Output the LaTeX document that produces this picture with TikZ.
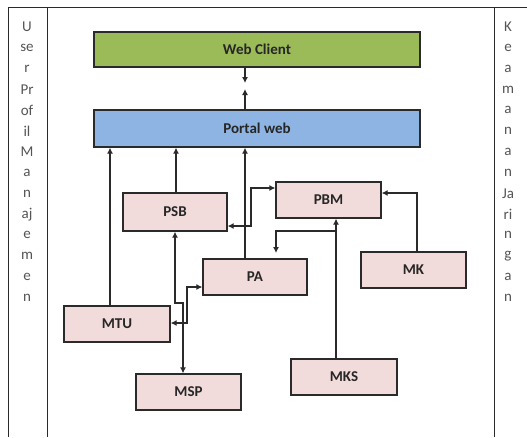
\documentclass[tikz,border=0pt]{standalone}
\usepackage{fontspec}
\setmainfont{Carlito}
\usetikzlibrary{arrows.meta}
\definecolor{boxpink}{HTML}{F2DCDB}
\definecolor{wcgreen}{HTML}{9BBB59}
\definecolor{pwblue}{HTML}{8DB4E2}
\definecolor{edge}{HTML}{2A2A2A}
\definecolor{sidetext}{HTML}{555555}
\begin{document}
\begin{tikzpicture}[x=1pt,y=-1pt,
  mbox/.style={draw=edge,line width=1.3pt,fill=boxpink,font=\fontsize{15}{15}\selectfont\bfseries,text=black!85,inner sep=0pt},
  conn/.style={draw=edge,line width=1.1pt},
  arr/.style={conn,-{Latex[length=6pt,width=6pt]}},
  darr/.style={conn,{Latex[length=6pt,width=6pt]}-{Latex[length=6pt,width=6pt]}},
  side/.style={font=\fontsize{15}{15}\selectfont,text=sidetext,anchor=center,inner sep=0pt},
  frame/.style={draw=edge,line width=1pt}]
\useasboundingbox (0,0) rectangle (527,437);
\fill[white] (0,0) rectangle (527,437);
% frame
\draw[frame] (8,7) -- (527,7);
\draw[frame] (8,7) -- (8,437);
\draw[frame] (47,7) -- (47,437);
\draw[frame] (494,7) -- (494,437);
% side texts
\foreach \t [count=\i] in {U,se,r,Pr,of,il,M,a,n,aj,e,m,e,n}
  \node[side] (l\i) at (27,{27+(\i-1)*20.8}) {\t};
\foreach \t [count=\i] in {K,e,a,m,a,n,a,n,Ja,ri,n,g,a,n}
  \node[side] (r\i) at (508,{27+(\i-1)*20.8}) {\t};
% main boxes
\node[mbox,fill=wcgreen,minimum width=326pt,minimum height=35pt] (wc) at (257,49.5) {Web Client};
\node[mbox,fill=pwblue,minimum width=326pt,minimum height=37pt] (pw) at (257,128.5) {Portal web};
\node[mbox,minimum width=104pt,minimum height=38pt] (psb) at (175,212) {PSB};
\node[mbox,minimum width=105pt,minimum height=36pt] (pbm) at (328.5,200) {PBM};
\node[mbox,minimum width=104pt,minimum height=36pt] (pa) at (255,277) {PA};
\node[mbox,minimum width=105pt,minimum height=36pt] (mk) at (413.5,270) {MK};
\node[mbox,minimum width=106pt,minimum height=36pt] (mtu) at (117,324) {MTU};
\node[mbox,minimum width=105pt,minimum height=36pt] (msp) at (188.5,392) {MSP};
\node[mbox,minimum width=106pt,minimum height=36pt] (mks) at (344,377) {MKS};
% web client <-> portal
\draw[arr] (wc.south -| 245,0) -- (245,83);
\draw[arr] (pw.north -| 245,0) -- (245,89);
% ups to portal
\draw[arr] (mtu.north -| 110,0) -- (pw.south -| 110,0);
\draw[arr] (psb.north -| 176,0) -- (pw.south -| 176,0);
\draw[arr] (pa.north -| 245,0) -- (pw.south -| 245,0);
% PSB <-> PBM
\draw[darr] (psb.east |- 0,226) -- (251,226) -- (251,188) -- (pbm.west |- 0,188);
% MK -> PBM
\draw[arr] (mk.north -| 417,0) -- (417,193) -- (pbm.east |- 0,193);
% MKS -> PBM
\draw[arr] (mks.north -| 336,0) -- (pbm.south -| 336,0);
\coordinate (br) at (336,231);
\draw[arr] (br) -- (276,231) -- (276,253);
% PSB <-> MSP
\draw[darr] (psb.south -| 175,0) -- (175,303) -- (183,303) -- (msp.north -| 183,0);
% PA <-> MTU
\draw[darr] (pa.west |- 0,287) -- (187,287) -- (187,323) -- (mtu.east |- 0,323);
\end{tikzpicture}
\end{document}
